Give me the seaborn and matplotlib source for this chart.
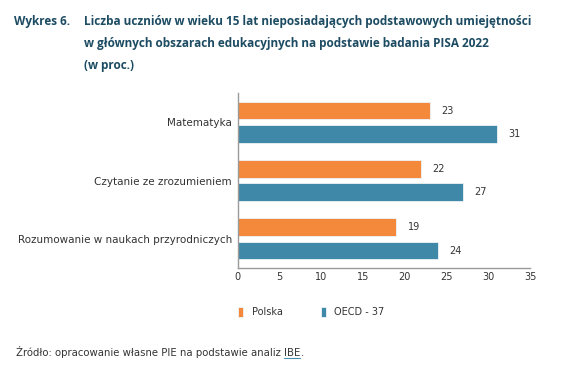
import pandas as pd
import numpy as np
import matplotlib
matplotlib.use("Agg")
import matplotlib.pyplot as plt
import seaborn as sns

# dane
kategorie = ["Matematyka", "Czytanie ze zrozumieniem", "Rozumowanie w naukach przyrodniczych"]
serie = ["Polska", "OECD - 37"]
polska = [23, 22, 19]
oecd = [31, 27, 24]
kolory = {"Polska": "#F5893B", "OECD - 37": "#3F88A7"}

df = pd.DataFrame({
    "obszar": kategorie * 2,
    "seria": [serie[0]] * 3 + [serie[1]] * 3,
    "wartosc": polska + oecd,
})

sns.set_style("white")
plt.rcParams["font.family"] = ["DejaVu Sans"]

fig = plt.figure(figsize=(5.67, 3.77), dpi=100)
ax = fig.add_axes([0.419, 0.289, 0.516, 0.464])

sns.barplot(data=df, y="obszar", x="wartosc", hue="seria", orient="h",
            palette=kolory, saturation=1, gap=0.25, width=0.8,
            edgecolor="#eef4f7", linewidth=0.6, legend=True, ax=ax)

for cont in ax.containers:
    for bar in cont:
        w = bar.get_width()
        ax.annotate(f"{w:.0f}", (w, bar.get_y() + bar.get_height() / 2),
                    xytext=(8, 0), textcoords="offset points",
                    va="center", ha="left", fontsize=7, color="#333333")

ax.set_xlim(0, 35)
ax.set_ylim(2.5, -0.5)
ax.set_xticks(np.arange(0, 36, 5))
ax.set_xlabel("")
ax.set_ylabel("")
ax.tick_params(axis="both", length=0, labelsize=7, labelcolor="#333333")
ax.tick_params(axis="y", pad=4, labelsize=7.5)
ax.tick_params(axis="x", pad=3)
for s in ["top", "right"]:
    ax.spines[s].set_visible(False)
for s in ["left", "bottom"]:
    ax.spines[s].set_color("#9a9a9a")
    ax.spines[s].set_linewidth(1.0)

handles, labels = ax.get_legend_handles_labels()
ax.legend_.remove()
fig.legend(handles, labels, loc="center left", bbox_to_anchor=(0.405, 0.172),
           ncol=2, frameon=False, handlelength=0.45, handleheight=1.1,
           handletextpad=0.9, columnspacing=4.0, fontsize=7,
           labelcolor="#333333")

tytul_kolor = "#1C4B62"
fig.text(0.025, 0.942, "Wykres 6.", fontsize=8.5, fontweight="bold",
         color=tytul_kolor, va="center", family="Open Sans")
tytul = ["Liczba uczniów w wieku 15 lat nieposiadających podstawowych umiejętności",
         "w głównych obszarach edukacyjnych na podstawie badania PISA 2022",
         "(w proc.)"]
for i, linia in enumerate(tytul):
    fig.text(0.149, 0.942 - i * 0.058, linia, fontsize=8.5, fontweight="bold",
             color=tytul_kolor, va="center", family="Open Sans")

y_zr = 0.057
t1 = fig.text(0.028, y_zr, "Źródło: opracowanie własne PIE na podstawie analiz ",
              fontsize=7.3, color="#333333", va="baseline")
fig.canvas.draw()
r = fig.canvas.get_renderer()
bb = t1.get_window_extent(r).transformed(fig.transFigure.inverted())
t2 = fig.text(bb.x1, y_zr, "IBE", fontsize=7.3, color="#333333", va="baseline")
fig.canvas.draw()
bb2 = t2.get_window_extent(r).transformed(fig.transFigure.inverted())
fig.add_artist(plt.Line2D([bb2.x0, bb2.x1], [y_zr - 0.007, y_zr - 0.007],
                          color="#4a8fb0", linewidth=0.8))
fig.text(bb2.x1, y_zr, ".", fontsize=7.3, color="#333333", va="baseline")

fig.savefig("out.png", dpi=100)
